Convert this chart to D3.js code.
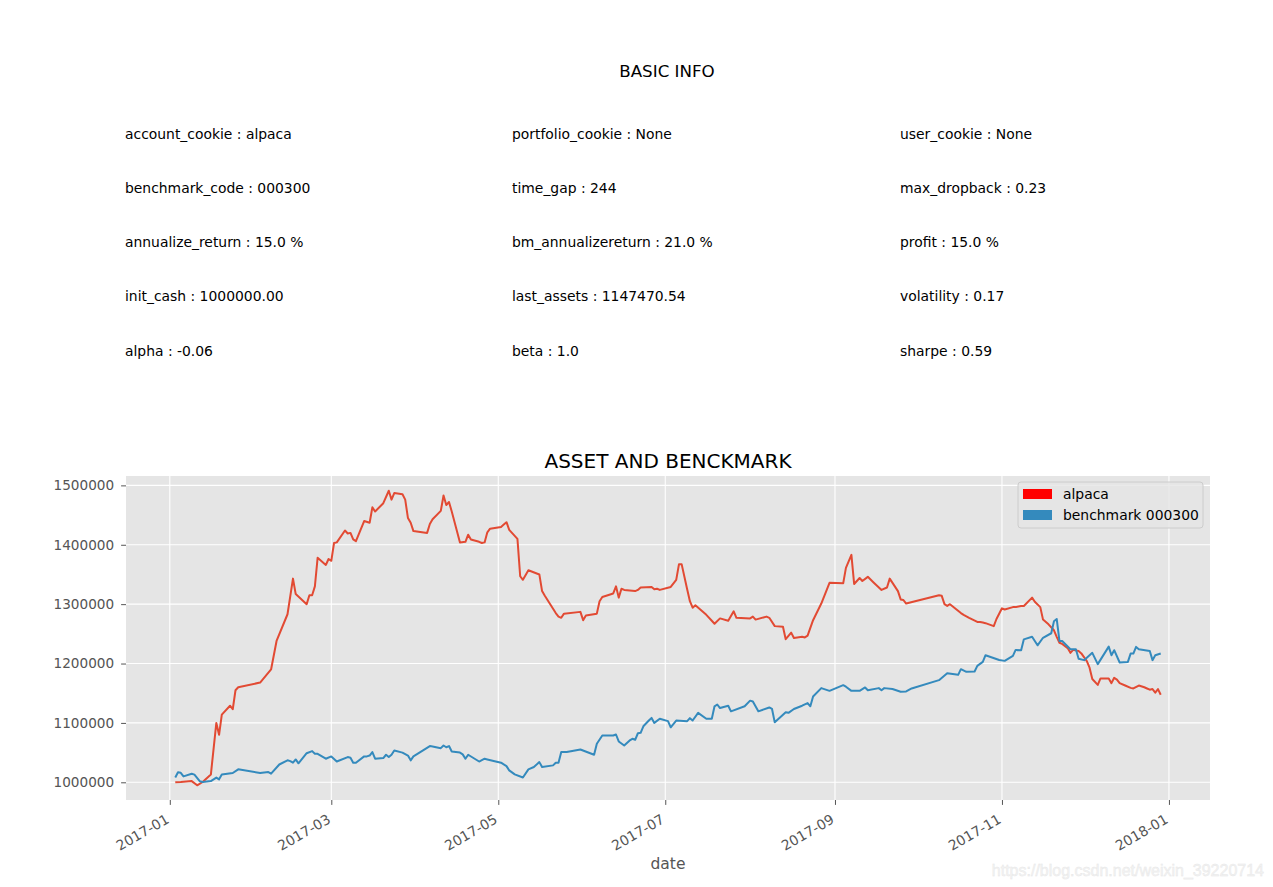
<!DOCTYPE html>
<html>
<head>
<meta charset="utf-8">
<script src="https://cdn.jsdelivr.net/npm/d3@7"></script>
<style>
  html, body { margin: 0; padding: 0; background: #fff; }
  svg { display: block; font-family: "DejaVu Sans", sans-serif; }
</style>
</head>
<body>
<svg id="chart" width="1273" height="887"></svg>
<script>
// ---------------- data ----------------
const infoTitle = "BASIC INFO";
const infoCol1 = ["account_cookie : alpaca", "benchmark_code : 000300", "annualize_return : 15.0 %", "init_cash : 1000000.00", "alpha : -0.06"];
const infoCol2 = ["portfolio_cookie : None", "time_gap : 244", "bm_annualizereturn : 21.0 %", "last_assets : 1147470.54", "beta : 1.0"];
const infoCol3 = ["user_cookie : None", "max_dropback : 0.23", "profit : 15.0 %", "volatility : 0.17", "sharpe : 0.59"];

const chartTitle = "ASSET AND BENCKMARK";
const xLabel = "date";
const seriesNames = ["alpaca", "benchmark 000300"];

const alpacaDates = ["2017-01-03","2017-01-05","2017-01-09","2017-01-11","2017-01-13","2017-01-16","2017-01-18","2017-01-19","2017-01-20","2017-01-23","2017-01-24","2017-01-25","2017-01-26","2017-02-03","2017-02-07","2017-02-09","2017-02-13","2017-02-15","2017-02-16","2017-02-20","2017-02-21","2017-02-22","2017-02-23","2017-02-24","2017-02-27","2017-02-28","2017-03-01","2017-03-02","2017-03-03","2017-03-06","2017-03-07","2017-03-08","2017-03-09","2017-03-10","2017-03-13","2017-03-15","2017-03-16","2017-03-17","2017-03-20","2017-03-22","2017-03-23","2017-03-24","2017-03-27","2017-03-28","2017-03-29","2017-03-30","2017-03-31","2017-04-05","2017-04-06","2017-04-07","2017-04-10","2017-04-11","2017-04-12","2017-04-13","2017-04-14","2017-04-17","2017-04-19","2017-04-20","2017-04-21","2017-04-24","2017-04-25","2017-04-26","2017-04-27","2017-04-28","2017-05-02","2017-05-03","2017-05-04","2017-05-05","2017-05-08","2017-05-09","2017-05-10","2017-05-12","2017-05-16","2017-05-17","2017-05-18","2017-05-22","2017-05-23","2017-05-24","2017-05-25","2017-05-31","2017-06-01","2017-06-02","2017-06-06","2017-06-07","2017-06-08","2017-06-12","2017-06-13","2017-06-14","2017-06-15","2017-06-16","2017-06-20","2017-06-21","2017-06-22","2017-06-26","2017-06-27","2017-06-28","2017-06-29","2017-07-03","2017-07-05","2017-07-06","2017-07-07","2017-07-09","2017-07-10","2017-07-11","2017-07-12","2017-07-16","2017-07-18","2017-07-19","2017-07-21","2017-07-24","2017-07-25","2017-07-26","2017-07-27","2017-08-01","2017-08-02","2017-08-03","2017-08-07","2017-08-08","2017-08-10","2017-08-13","2017-08-14","2017-08-16","2017-08-17","2017-08-20","2017-08-21","2017-08-22","2017-08-24","2017-08-27","2017-08-30","2017-09-04","2017-09-05","2017-09-07","2017-09-08","2017-09-10","2017-09-11","2017-09-13","2017-09-15","2017-09-18","2017-09-20","2017-09-21","2017-09-24","2017-09-25","2017-09-26","2017-09-27","2017-10-09","2017-10-10","2017-10-11","2017-10-12","2017-10-13","2017-10-17","2017-10-18","2017-10-20","2017-10-23","2017-10-24","2017-10-25","2017-10-26","2017-10-29","2017-10-30","2017-11-01","2017-11-02","2017-11-05","2017-11-06","2017-11-08","2017-11-09","2017-11-12","2017-11-13","2017-11-15","2017-11-16","2017-11-18","2017-11-20","2017-11-21","2017-11-22","2017-11-23","2017-11-25","2017-11-26","2017-11-27","2017-11-29","2017-11-30","2017-12-02","2017-12-03","2017-12-04","2017-12-06","2017-12-07","2017-12-10","2017-12-11","2017-12-12","2017-12-13","2017-12-14","2017-12-16","2017-12-18","2017-12-19","2017-12-21","2017-12-23","2017-12-24","2017-12-25","2017-12-26","2017-12-27","2017-12-28","2017-12-29"];
const alpacaValues = [1000000,1000500,1002000,995000,1000500,1013000,1100000,1080000,1114000,1129000,1123000,1155000,1160000,1168000,1190000,1238000,1283000,1343000,1317000,1300000,1315000,1315000,1330000,1378000,1366000,1376000,1373000,1403000,1404000,1424000,1419000,1420000,1409000,1406000,1440000,1437000,1463000,1456000,1470000,1491000,1476000,1487000,1485000,1476000,1445000,1437000,1423000,1420000,1435000,1443000,1457000,1483000,1467000,1472000,1456000,1404000,1405000,1417000,1409000,1405000,1403000,1404000,1421000,1427000,1430000,1434000,1438000,1425000,1410000,1347000,1341000,1357000,1350000,1322000,1314000,1285000,1279000,1277000,1284000,1287000,1273000,1281000,1284000,1305000,1312000,1318000,1330000,1311000,1326000,1324000,1322000,1324000,1328000,1329000,1325000,1326000,1324000,1329000,1341000,1367000,1367000,1325000,1305000,1294000,1298000,1282000,1272000,1267000,1276000,1272000,1280000,1288000,1277000,1276000,1279000,1274000,1279000,1277000,1263000,1262000,1241000,1252000,1243000,1245000,1244000,1247000,1273000,1301000,1336000,1335000,1361000,1383000,1334000,1344000,1339000,1346000,1337000,1324000,1328000,1343000,1322000,1308000,1307000,1301000,1315000,1314000,1300000,1297000,1300000,1285000,1282000,1277000,1270000,1270000,1269000,1268000,1263000,1275000,1293000,1291000,1295000,1295000,1297000,1297000,1311000,1304000,1295000,1274000,1266000,1256000,1245000,1235000,1233000,1226000,1218000,1223000,1221000,1217000,1204000,1193000,1174000,1164000,1175000,1175000,1167000,1176000,1173000,1167000,1163000,1159000,1158000,1163000,1160000,1158000,1156000,1157000,1151000,1157000,1147470];

const benchDates = ["2017-01-03","2017-01-04","2017-01-05","2017-01-06","2017-01-09","2017-01-10","2017-01-12","2017-01-13","2017-01-16","2017-01-18","2017-01-19","2017-01-20","2017-01-24","2017-01-26","2017-02-03","2017-02-06","2017-02-07","2017-02-10","2017-02-13","2017-02-14","2017-02-15","2017-02-16","2017-02-17","2017-02-20","2017-02-22","2017-02-23","2017-02-24","2017-02-27","2017-03-01","2017-03-03","2017-03-07","2017-03-08","2017-03-09","2017-03-10","2017-03-13","2017-03-14","2017-03-15","2017-03-16","2017-03-17","2017-03-20","2017-03-21","2017-03-22","2017-03-23","2017-03-24","2017-03-27","2017-03-29","2017-03-30","2017-03-31","2017-04-06","2017-04-07","2017-04-10","2017-04-11","2017-04-12","2017-04-13","2017-04-14","2017-04-17","2017-04-18","2017-04-19","2017-04-20","2017-04-24","2017-04-26","2017-04-27","2017-05-02","2017-05-04","2017-05-05","2017-05-07","2017-05-10","2017-05-12","2017-05-14","2017-05-16","2017-05-17","2017-05-21","2017-05-22","2017-05-23","2017-05-24","2017-05-26","2017-05-31","2017-06-05","2017-06-06","2017-06-08","2017-06-12","2017-06-13","2017-06-14","2017-06-16","2017-06-18","2017-06-19","2017-06-20","2017-06-21","2017-06-22","2017-06-23","2017-06-25","2017-06-26","2017-06-27","2017-06-29","2017-07-02","2017-07-03","2017-07-05","2017-07-09","2017-07-10","2017-07-11","2017-07-13","2017-07-16","2017-07-18","2017-07-19","2017-07-20","2017-07-21","2017-07-24","2017-07-25","2017-07-30","2017-08-01","2017-08-02","2017-08-04","2017-08-08","2017-08-09","2017-08-10","2017-08-14","2017-08-15","2017-08-17","2017-08-20","2017-08-22","2017-08-23","2017-08-24","2017-08-27","2017-08-30","2017-09-04","2017-09-05","2017-09-07","2017-09-10","2017-09-12","2017-09-13","2017-09-17","2017-09-18","2017-09-19","2017-09-22","2017-09-25","2017-09-27","2017-09-29","2017-10-09","2017-10-12","2017-10-16","2017-10-17","2017-10-19","2017-10-22","2017-10-23","2017-10-25","2017-10-26","2017-10-31","2017-11-02","2017-11-05","2017-11-06","2017-11-08","2017-11-09","2017-11-12","2017-11-14","2017-11-16","2017-11-19","2017-11-20","2017-11-21","2017-11-22","2017-11-23","2017-11-26","2017-11-28","2017-11-29","2017-12-01","2017-12-04","2017-12-06","2017-12-10","2017-12-11","2017-12-12","2017-12-14","2017-12-17","2017-12-18","2017-12-19","2017-12-20","2017-12-21","2017-12-25","2017-12-26","2017-12-27","2017-12-29"];
const benchValues = [1008000,1017000,1016000,1010000,1014500,1013000,1001700,1000500,1002000,1008000,1005000,1013000,1015600,1021800,1015600,1017300,1014600,1030000,1037000,1035700,1033000,1038500,1032000,1049000,1052500,1048000,1048000,1039700,1043600,1035000,1042500,1041300,1033000,1033000,1043600,1043600,1045000,1051000,1039700,1040800,1046400,1042500,1046400,1053600,1050000,1045000,1037000,1043600,1061000,1060300,1057500,1062000,1059000,1061000,1052000,1050000,1047000,1039700,1046400,1035000,1039700,1038500,1033000,1027300,1020000,1013400,1008000,1021800,1025700,1034000,1025700,1028500,1033000,1033000,1051000,1051000,1055300,1046400,1065000,1078800,1078800,1080500,1068800,1062000,1070500,1073300,1071600,1082600,1083300,1094300,1104000,1108400,1100000,1107000,1103000,1092600,1104000,1103000,1108000,1104000,1117000,1107000,1107000,1128000,1131000,1125000,1129000,1119500,1128000,1137500,1136000,1119500,1126000,1123500,1101000,1118000,1117000,1123500,1129000,1133500,1128000,1144600,1158600,1154000,1163600,1161000,1154000,1154000,1159700,1155000,1158600,1155000,1158600,1157000,1152500,1153000,1158000,1172000,1183700,1181000,1190500,1186000,1186500,1196000,1202700,1214000,1206000,1204500,1213000,1223000,1222500,1240700,1245000,1230700,1243400,1251000,1271300,1275000,1238000,1238000,1224000,1224000,1208000,1205700,1218000,1199000,1228500,1214000,1222500,1201700,1202700,1216700,1216700,1228000,1224000,1221000,1205700,1214000,1217000];

const yTickValues = [1000000, 1100000, 1200000, 1300000, 1400000, 1500000];
const xTickLabels = ["2017-01", "2017-03", "2017-05", "2017-07", "2017-09", "2017-11", "2018-01"];

// ---------------- drawing ----------------
const svg = d3.select("#chart");
const W = 1273, H = 887;
svg.append("rect").attr("width", W).attr("height", H).attr("fill", "#ffffff");

const parse = d3.timeParse("%Y-%m-%d");
const parseMonth = d3.timeParse("%Y-%m");
const alpaca = alpacaDates.map((d, i) => ({ date: parse(d), value: alpacaValues[i] }));
const bench = benchDates.map((d, i) => ({ date: parse(d), value: benchValues[i] }));
const all = alpaca.concat(bench);

// info block
svg.append("text").attr("x", 667).attr("y", 71).attr("text-anchor", "middle")
  .attr("dominant-baseline", "central").attr("font-size", "16.7px").attr("fill", "#000")
  .text(infoTitle);
const colX = [125, 512, 900];
const rowY = [134, 188, 242, 296, 351];
[infoCol1, infoCol2, infoCol3].forEach((col, ci) => {
  col.forEach((t, ri) => {
    svg.append("text").attr("x", colX[ci]).attr("y", rowY[ri])
      .attr("dominant-baseline", "central").attr("font-size", "13.9px").attr("fill", "#000")
      .text(t);
  });
});

// plot area
const pLeft = 126, pRight = 1210, pTop = 476, pBottom = 800;
const tExt = d3.extent(all, d => +d.date);
const tPad = (tExt[1] - tExt[0]) * 0.05;
const vExt = d3.extent(all, d => d.value);
const vPad = (vExt[1] - vExt[0]) * 0.05;

const x = d3.scaleTime().domain([new Date(tExt[0] - tPad), new Date(tExt[1] + tPad)]).range([pLeft, pRight]);
const y = d3.scaleLinear().domain([vExt[0] - vPad, vExt[1] + vPad]).range([pBottom, pTop]);

svg.append("rect").attr("x", pLeft).attr("y", pTop).attr("width", pRight - pLeft).attr("height", pBottom - pTop)
  .attr("fill", "#E5E5E5");

const xTicks = xTickLabels.map(parseMonth);
const grid = svg.append("g");
grid.selectAll(".gx").data(xTicks).join("line")
  .attr("x1", d => x(d)).attr("x2", d => x(d)).attr("y1", pTop).attr("y2", pBottom)
  .attr("stroke", "#ffffff").attr("stroke-width", 1.1);
grid.selectAll(".gy").data(yTickValues).join("line")
  .attr("x1", pLeft).attr("x2", pRight).attr("y1", d => y(d)).attr("y2", d => y(d))
  .attr("stroke", "#ffffff").attr("stroke-width", 1.1);

// y axis
const yAxis = d3.axisLeft(y).tickValues(yTickValues).tickFormat(d3.format("d")).tickSize(4.9).tickPadding(7);
const yg = svg.append("g").attr("transform", `translate(${pLeft},0)`).call(yAxis);
yg.select(".domain").remove();
yg.selectAll(".tick line").attr("stroke", "#555555");
yg.selectAll(".tick text").attr("fill", "#555555").attr("font-size", "13.6px")
  .attr("font-family", "DejaVu Sans, sans-serif");

// x axis
const fmt = d3.timeFormat("%Y-%m");
const xAxis = d3.axisBottom(x).tickValues(xTicks).tickFormat(fmt).tickSize(4.9);
const xg = svg.append("g").attr("transform", `translate(0,${pBottom})`).call(xAxis);
xg.select(".domain").remove();
xg.selectAll(".tick line").attr("stroke", "#555555");
xg.selectAll(".tick text")
  .attr("fill", "#555555").attr("font-size", "13.9px").attr("font-family", "DejaVu Sans, sans-serif")
  .attr("text-anchor", "end").attr("dy", null).attr("x", 0).attr("y", 10.5)
  .attr("transform", "translate(-5.5,13) rotate(-30)");

// lines
const line = d3.line().x(d => x(d.date)).y(d => y(d.value));
svg.append("path").datum(alpaca).attr("d", line).attr("fill", "none")
  .attr("stroke", "#E24A33").attr("stroke-width", 2).attr("stroke-linejoin", "round");
svg.append("path").datum(bench).attr("d", line).attr("fill", "none")
  .attr("stroke", "#348ABD").attr("stroke-width", 2).attr("stroke-linejoin", "round");

// titles
svg.append("text").attr("x", (pLeft + pRight) / 2).attr("y", 461).attr("text-anchor", "middle")
  .attr("dominant-baseline", "central").attr("font-size", "20px").attr("fill", "#000").text(chartTitle);
svg.append("text").attr("x", (pLeft + pRight) / 2).attr("y", 864).attr("text-anchor", "middle")
  .attr("dominant-baseline", "central").attr("font-size", "15.5px").attr("fill", "#555555").text(xLabel);

// legend
const lg = svg.append("g");
lg.append("rect").attr("x", 1018).attr("y", 482).attr("width", 185).attr("height", 46).attr("rx", 3)
  .attr("fill", "#E5E5E5").attr("fill-opacity", 0.8).attr("stroke", "#CCCCCC").attr("stroke-width", 1);
const legendColors = ["#FF0000", "#348ABD"];
seriesNames.forEach((n, i) => {
  const cy = 494 + i * 21;
  lg.append("rect").attr("x", 1023).attr("y", cy - 5).attr("width", 29).attr("height", 10).attr("fill", legendColors[i]);
  lg.append("text").attr("x", 1063).attr("y", cy).attr("dominant-baseline", "central")
    .attr("font-size", "13.9px").attr("fill", "#000").text(n);
});

// watermark
svg.append("text").attr("x", 1264).attr("y", 870).attr("text-anchor", "end").attr("dominant-baseline", "central")
  .attr("font-family", "Liberation Sans, Arial, sans-serif").attr("font-size", "16px")
  .attr("fill", "#f4f4f4").attr("stroke", "#e6e6e6").attr("stroke-width", 0.4)
  .text("https://blog.csdn.net/weixin_39220714");
</script>
</body>
</html>
